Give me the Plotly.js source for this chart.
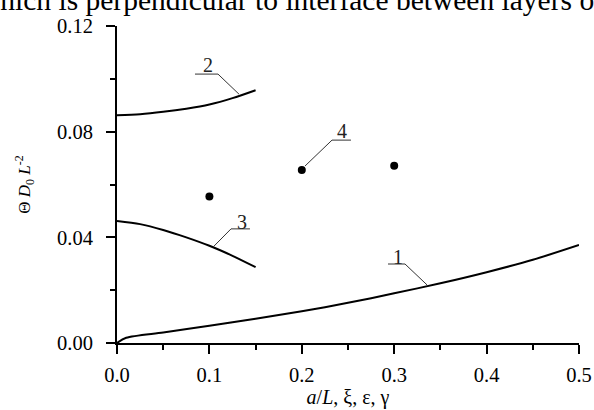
<!DOCTYPE html>
<html><head><meta charset="utf-8">
<script src="https://cdn.plot.ly/plotly-3.0.1.min.js"></script>
<style>
html,body{margin:0;padding:0;background:#fff;overflow:hidden}
#wrap{position:relative;width:594px;height:410px;overflow:hidden}
#chart{position:absolute;left:0;top:0;width:594px;height:410px}
#cap{position:absolute;left:-21px;top:-14px;font-family:"Liberation Serif",serif;font-size:29.5px;line-height:29px;white-space:nowrap;color:#000}
</style></head>
<body>
<div id="wrap"><div id="chart"></div><div id="cap">which is perpendicular to interface between layers of</div></div>
<script>
// Curve 1
const curve1X = [0, 0.01, 0.05, 0.1, 0.15, 0.2, 0.25, 0.3, 0.35, 0.4, 0.45, 0.5];
const curve1Y = [0, 0.0020, 0.0040, 0.0065, 0.0092, 0.0120, 0.0152, 0.0188, 0.0226, 0.0268, 0.0315, 0.0371];
// Curve 2
const curve2X = [0, 0.025, 0.05, 0.075, 0.1, 0.125, 0.15];
const curve2Y = [0.0862, 0.0866, 0.0875, 0.0887, 0.0903, 0.0927, 0.0957];
// Curve 3
const curve3X = [0, 0.025, 0.05, 0.075, 0.1, 0.125, 0.15];
const curve3Y = [0.0462, 0.0450, 0.0428, 0.0400, 0.0368, 0.0330, 0.0287];
// Points 4
const dotsX = [0.1, 0.2, 0.3];
const dotsY = [0.0555, 0.0655, 0.0671];
// Curve labels: text position, underline span, leader end
const labelText = ['1', '2', '3', '4'];
const labelX = [0.3041, 0.0985, 0.1358, 0.2435];
const labelY = [0.0327, 0.1052, 0.0458, 0.0801];
const underY = [0.0299, 0.1018, 0.0432, 0.0768];
const underX0 = [0.2933, 0.0844, 0.1234, 0.2327];
const underX1 = [0.3117, 0.1093, 0.1439, 0.2532];
const leadFromX = [0.3117, 0.1093, 0.1234, 0.2327];
const leadToX = [0.3355, 0.1320, 0.1039, 0.2035];
const leadToY = [0.0220, 0.0942, 0.0363, 0.0670];
// Axis ticks
const xTicks = [0, 0.1, 0.2, 0.3, 0.4, 0.5];
const xTickText = ['0.0', '0.1', '0.2', '0.3', '0.4', '0.5'];
const yTicks = [0, 0.04, 0.08, 0.12];
const yTickText = ['0.00', '0.04', '0.08', '0.12'];

const serif = '"Liberation Serif", "Times New Roman", serif';
const lineStyle = {color: '#000', width: 2, shape: 'spline', smoothing: 0.8};

const traces = [
  {x: curve1X, y: curve1Y, mode: 'lines', line: lineStyle, hoverinfo: 'skip'},
  {x: curve2X, y: curve2Y, mode: 'lines', line: lineStyle, hoverinfo: 'skip'},
  {x: curve3X, y: curve3Y, mode: 'lines', line: lineStyle, hoverinfo: 'skip'},
  {x: dotsX, y: dotsY, mode: 'markers', marker: {color: '#000', size: 8}, hoverinfo: 'skip', cliponaxis: false}
];

const shapes = [];
const annotations = [];
for (let i = 0; i < labelText.length; i++) {
  shapes.push({type: 'line', xref: 'x', yref: 'y', x0: underX0[i], x1: underX1[i], y0: underY[i], y1: underY[i], line: {color: '#333', width: 1}});
  shapes.push({type: 'line', xref: 'x', yref: 'y', x0: leadFromX[i], x1: leadToX[i], y0: underY[i], y1: leadToY[i], line: {color: '#333', width: 1}});
  annotations.push({x: labelX[i], y: labelY[i], xref: 'x', yref: 'y', text: labelText[i], showarrow: false,
    xanchor: 'center', yanchor: 'middle', font: {family: serif, size: 20, color: '#222'}});
}

const axisCommon = {
  showline: true, linecolor: '#000', linewidth: 2, showgrid: false, zeroline: false,
  ticks: 'outside', ticklen: 9, tickwidth: 2, tickcolor: '#000',
  tickfont: {family: serif, size: 20.5, color: '#000'}
};

const layout = {
  width: 594, height: 410,
  margin: {l: 117, r: 15, t: 26, b: 67},
  paper_bgcolor: '#fff', plot_bgcolor: '#fff',
  showlegend: false,
  xaxis: Object.assign({}, axisCommon, {
    range: [0, 0.5], tickvals: xTicks, ticktext: xTickText, ticklabelstandoff: 3,
    minor: {dtick: 0.05, tick0: 0, ticks: 'outside', ticklen: 5, tickwidth: 2, tickcolor: '#000', showgrid: false},
    title: {text: '<i>a</i>/<i>L</i>, ξ, ε, γ', font: {family: serif, size: 20, color: '#000'}, standoff: 4}
  }),
  yaxis: Object.assign({}, axisCommon, {
    range: [0, 0.12], tickvals: yTicks, ticktext: yTickText, ticklabelstandoff: 9,
    minor: {dtick: 0.02, tick0: 0, ticks: 'outside', ticklen: 5, tickwidth: 2, tickcolor: '#000', showgrid: false},
    title: {text: 'Θ <i>D</i><sub>0</sub> <i>L</i><sup>-2</sup>', font: {family: serif, size: 17, color: '#000'}, standoff: 22}
  }),
  shapes: shapes,
  annotations: annotations
};

Plotly.newPlot('chart', traces, layout, {displayModeBar: false, staticPlot: true});
</script>
</body></html>
